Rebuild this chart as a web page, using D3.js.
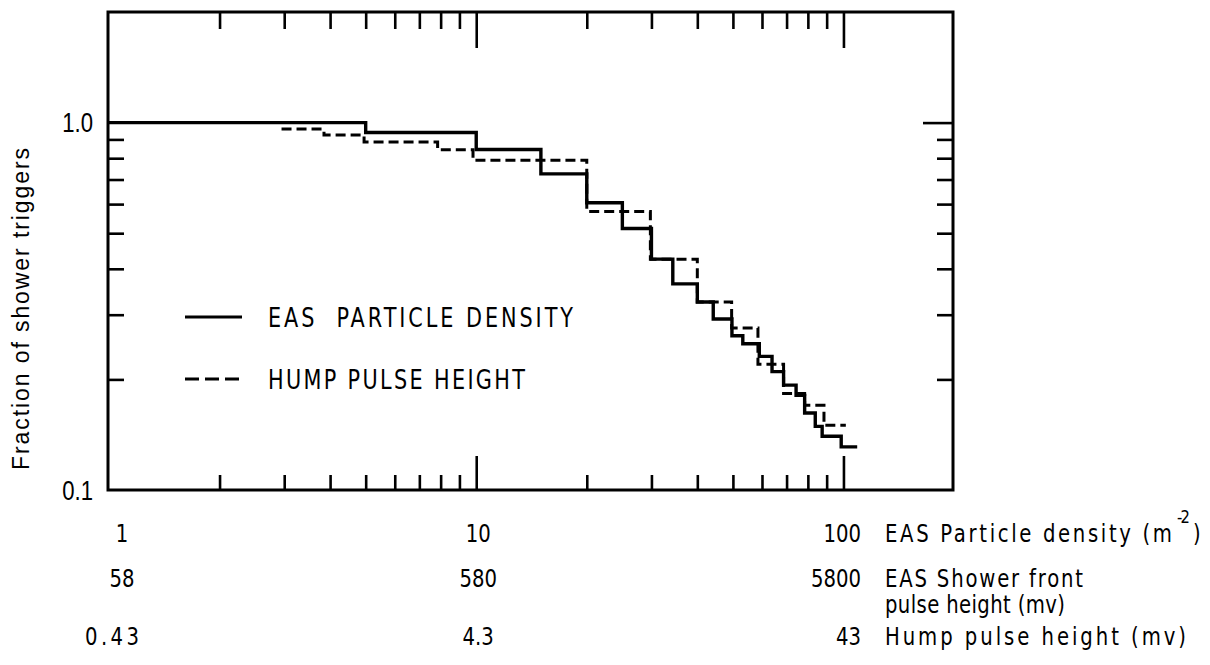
<!DOCTYPE html>
<html><head><meta charset="utf-8">
<script src="https://cdn.jsdelivr.net/npm/d3@7"></script>
<style>body{margin:0;background:#fff} svg{display:block} text{white-space:pre}</style>
</head><body>
<svg id="c" width="1210" height="665"></svg>
<script>
// ---- data ----
const densityEdges  = [1, 5, 10, 15, 20, 25, 30, 34.3, 40, 44.2, 49.7, 53.2, 59, 63.9, 68.7, 74.3, 78.4, 83.8, 87.5, 98.6, 109];
const densityValues = [1.0, 0.94, 0.845, 0.725, 0.605, 0.515, 0.425, 0.364, 0.325, 0.292, 0.263, 0.25, 0.231, 0.21, 0.193, 0.181, 0.162, 0.149, 0.14, 0.131];
const humpEdges  = [2.95, 3.85, 4.95, 7.85, 9.8, 20, 29.8, 40, 49.6, 58.5, 68.7, 78.4, 88.5, 101.5];
const humpValues = [0.96, 0.925, 0.885, 0.843, 0.79, 0.573, 0.425, 0.325, 0.276, 0.22, 0.183, 0.17, 0.15];
const xMajorTicks = [10, 100];
const xMinorTicks = [2, 3, 4, 5, 6, 7, 8, 9, 20, 30, 40, 50, 60, 70, 80, 90];
const yMajorTicks = [1.0];
const yMinorTicks = [0.2, 0.3, 0.4, 0.5, 0.6, 0.7, 0.8, 0.9];
const yTickValues = [1.0, 0.1];
const yTickLabels = ["1.0", "0.1"];
const xLabelValues = [1, 10, 100];
const xLabelDensity = ["1", "10", "100"];
const xLabelShower  = ["58", "580", "5800"];
const xLabelHump    = ["0.43", "4.3", "43"];
const legendLabels = ["EAS  PARTICLE DENSITY", "HUMP PULSE HEIGHT"];
const yTitle = "Fraction of shower triggers";

// ---- layout ----
const L = 108, R = 953, T = 12, B = 490;
const svg = d3.select("#c");
const x = d3.scaleLog().domain([1, 200]).range([109, 954]);
const y = d3.scaleLog().domain([0.1, 2]).range([B, T]);
const ink = "#000";
const narrow = "'DejaVu Sans',sans-serif";
const sans = "'Liberation Sans',Arial,sans-serif";

// text helper: horizontally condensed glyphs, optional total length (extra letter spacing)
function txt(g, s, xx, yy, size, opts) {
  const o = Object.assign({sx: 0.82, anchor: "start", fam: narrow, len: null}, opts || {});
  const gg = g.append("g").attr("transform", `translate(${xx},${yy}) scale(${o.sx},1)`);
  const t = gg.append("text").attr("x", 0).attr("y", 0)
    .attr("font-family", o.fam).attr("font-size", size)
    .attr("text-anchor", o.anchor).attr("fill", ink).text(s);
  if (o.len) t.attr("textLength", o.len / o.sx).attr("lengthAdjust", "spacing");
  return t;
}

// axes via d3 axes (ticks inward)
function xAxis(vals, size, orient) {
  const ax = (orient === "bottom" ? d3.axisBottom(x) : d3.axisTop(x))
    .tickValues(vals).tickSize(-size).tickFormat("");
  const g = svg.append("g").attr("transform", `translate(0,${orient === "bottom" ? B : T})`).call(ax);
  g.select(".domain").remove();
  g.selectAll("line").attr("stroke", ink).attr("stroke-width", 2.6);
}
xAxis(xMinorTicks, 15, "bottom");
xAxis(xMajorTicks, 34, "bottom");
xAxis(xMinorTicks, 17, "top");
xAxis(xMajorTicks, 36, "top");

function yAxis(vals, size, orient) {
  const ax = (orient === "left" ? d3.axisLeft(y) : d3.axisRight(y))
    .tickValues(vals).tickSize(-size).tickFormat("");
  const g = svg.append("g").attr("transform", `translate(${orient === "left" ? L : R},0)`).call(ax);
  g.select(".domain").remove();
  g.selectAll("line").attr("stroke", ink).attr("stroke-width", 2.6);
}
yAxis(yMinorTicks, 16, "left");
yAxis(yMinorTicks, 16, "right");
yAxis(yMajorTicks, 30, "right");

// frame
svg.append("rect").attr("x", L).attr("y", T).attr("width", R - L).attr("height", B - T)
  .attr("fill", "none").attr("stroke", ink).attr("stroke-width", 3);

// step lines
function stepPoints(edges, vals) {
  const pts = vals.map((v, i) => [edges[i], v]);
  pts.push([edges[edges.length - 1], vals[vals.length - 1]]);
  return pts;
}
const line = d3.line().x(d => x(d[0])).y(d => y(d[1])).curve(d3.curveStepAfter);
svg.append("path").attr("d", line(stepPoints(humpEdges, humpValues)))
  .attr("fill", "none").attr("stroke", ink).attr("stroke-width", 3).attr("stroke-dasharray", "10,5");
svg.append("path").attr("d", line(stepPoints(densityEdges, densityValues)))
  .attr("fill", "none").attr("stroke", ink).attr("stroke-width", 3.4);

// y tick labels
yTickValues.forEach((v, i) => {
  txt(svg, yTickLabels[i], 93, y(v) + 9.5, 27, {anchor: "end", fam: sans, sx: 0.82});
});

// y title
const yt = svg.append("g").attr("transform", "translate(29,309) rotate(-90)");
txt(yt, yTitle, 0, 0, 23, {anchor: "middle", fam: sans, sx: 1, len: 322});

// x label rows
const rowsY = [542, 587, 645];
const rowLabels = [xLabelDensity, xLabelShower, xLabelHump];
rowLabels.forEach((labs, r) => {
  xLabelValues.forEach((v, i) => {
    let cx = i === 2 ? 861 : (i === 0 ? x(v) + 13 : x(v) + 2);
    const o = {anchor: i === 2 ? "end" : "middle"};
    if (r === 2 && i === 0) { cx = 112; o.len = 54; }
    txt(svg, labs[i], cx, rowsY[r], 24, o);
  });
});
const tx = 885;
txt(svg, "EAS Particle density (m", tx, 542, 24, {len: 287});
txt(svg, "-2", 1177, 523, 18, {len: 13});
txt(svg, ")", 1193, 542, 24);
txt(svg, "EAS Shower front", tx, 587, 24, {len: 198});
txt(svg, "pulse height (mv)", tx, 613, 24, {len: 180});
txt(svg, "Hump pulse height (mv)", tx, 645, 24, {len: 301});

// legend
const legY = [317, 379];
const legLen = [305, 257];
legendLabels.forEach((lab, i) => {
  svg.append("line").attr("x1", 185).attr("x2", 242).attr("y1", legY[i]).attr("y2", legY[i])
    .attr("stroke", ink).attr("stroke-width", 3)
    .attr("stroke-dasharray", i === 1 ? "14,6" : null);
  txt(svg, lab, 268, legY[i] + 9.5, 26, {len: legLen[i], sx: 0.8});
});
</script>
</body></html>
